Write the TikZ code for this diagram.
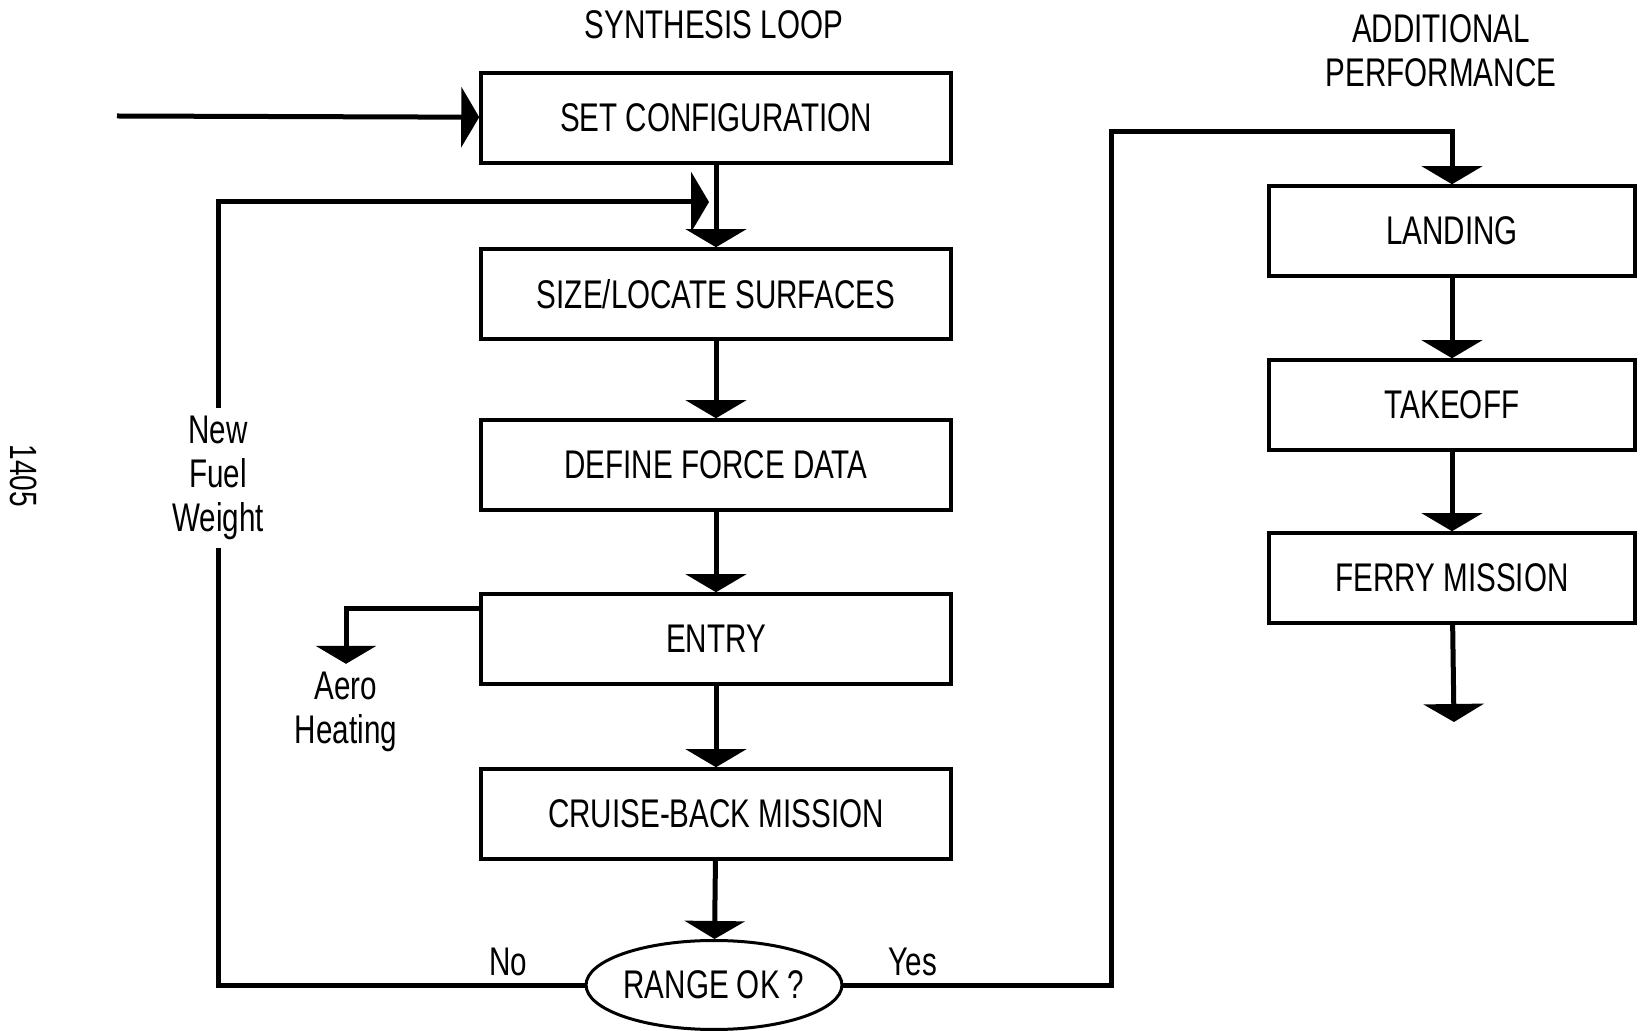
\documentclass[tikz,border=0pt]{standalone}
\usepackage{fontspec}
\setmainfont[FakeStretch=0.74]{Liberation Sans}
\usetikzlibrary{arrows.meta,shapes.geometric}

\tikzset{
  block/.style={draw, line width=1.75pt, minimum width=235pt, minimum height=45pt,
    font=\fontsize{20}{23}\selectfont},
  rblock/.style={block, minimum width=183pt},
  flow/.style={line width=2.5pt, -{Triangle[width=30pt,length=9pt]}},
  wire/.style={line width=2.5pt},
  lbl/.style={font=\fontsize{20}{22}\selectfont, align=center, inner sep=4pt}
}

\begin{document}
\begin{tikzpicture}[x=0.5pt,y=-0.5pt]
\useasboundingbox (0,0) rectangle (1640,1031);

% titles
\node[lbl] (synth) at (714,25) {SYNTHESIS LOOP};
\node[lbl] (addperf) at (1441,51) {ADDITIONAL\\PERFORMANCE};
\node[rotate=-90, font=\fontsize{19}{19}\selectfont] (pageno) at (24,476) {1405};

% synthesis loop
\node[block] (setc) at (716,118) {SET CONFIGURATION};
\node[block] (size) at (716,294) {SIZE/LOCATE SURFACES};
\node[block] (force) at (716,465) {DEFINE FORCE DATA};
\node[block] (entry) at (716,639) {ENTRY};
\node[block] (cruise) at (716,814) {CRUISE-BACK MISSION};
\node[draw, ellipse, line width=1.5pt, inner sep=0pt, minimum width=124pt,
  minimum height=44.5pt, font=\fontsize{20}{23}\selectfont] (range) at (714,985) {RANGE OK ?};

% additional performance
\node[rblock] (landing) at (1452,231) {LANDING};
\node[rblock] (takeoff) at (1452,405) {TAKEOFF};
\node[rblock] (ferry) at (1452,578) {FERRY MISSION};

% side labels
\node[lbl] (fuel) at (218,478) {New\\Fuel\\Weight};
\node[lbl, text depth=0pt] (aero) at (346,708) {Aero\\Heating};
\node[lbl] (no) at (508,962) {No};
\node[lbl] (yes) at (913,962) {Yes};

\coordinate (input) at (117,116);
\coordinate (nofeed) at (709,202);
\coordinate (yescorner) at (1111,132);
\coordinate (out) at (1454,722);

% connectors
\draw[flow] (input) -- (setc);
\draw[flow] (setc) -- (size);
\draw[flow] (size) -- (force);
\draw[flow] (force) -- (entry);
\draw[flow] (entry) -- (cruise);
\draw[flow] (cruise) -- (range);
\draw[wire] (range.west) -| (fuel.south);
\draw[flow] (fuel.north) |- (nofeed);
\draw[flow] ([yshift=15pt]entry.west) -| (aero.north);
\draw[flow] (range.east) -| (yescorner) -| (landing.north);
\draw[flow] (landing) -- (takeoff);
\draw[flow] (takeoff) -- (ferry);
\draw[flow] (ferry) -- (out);
\end{tikzpicture}
\end{document}
